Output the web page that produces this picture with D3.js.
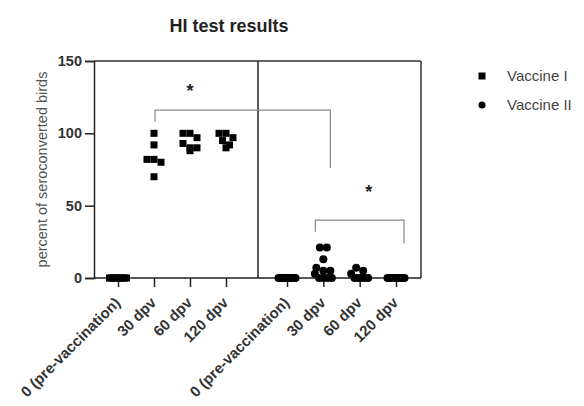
<!DOCTYPE html>
<html>
<head>
<meta charset="utf-8">
<script src="https://cdn.jsdelivr.net/npm/d3@7"></script>
<style>
  body { margin: 0; background: #fff; }
  text { font-family: "Liberation Sans", Arial, sans-serif; }
</style>
</head>
<body>
<div id="chart"></div>
<script>
// HI test chart

const WIDTH = 584;
const HEIGHT = 406;

const categories = ["0 (pre-vaccination)", "30 dpv", "60 dpv", "120 dpv"];
const yTicks = [0, 50, 100, 150];

// values (percent seroconverted, one per bird group)
const vaccineI = [
  [0, 0, 0, 0, 0, 0, 0, 0, 0, 0],
  [100, 92, 82, 80, 82, 70],
  [100, 100, 97, 93, 90, 90, 88],
  [100, 100, 97, 95, 92, 90]
];
const vaccineII = [
  [0, 0, 0, 0, 0, 0, 0, 0, 0, 0],
  [21, 21, 13, 7, 5, 5, 3, 0, 0, 0, 0],
  [7, 5, 3, 0, 0, 0, 0, 0],
  [0, 0, 0, 0, 0, 0, 0, 0]
];

const svg = d3.select("#chart")
  .append("svg")
    .attr("width", WIDTH)
    .attr("height", HEIGHT);

const PLOT_TOP = 61, PLOT_BOTTOM = 278;
const PLOT_LEFT = 94, PLOT_MID = 258, PLOT_RIGHT = 421;

const y = d3.scaleLinear().domain([0, 150]).range([PLOT_BOTTOM, PLOT_TOP]);

const xI = d3.scalePoint().domain(categories).range([118, 226]);
const xII = d3.scalePoint().domain(categories).range([287, 396]);

// title
svg.append("text")
  .attr("x", 229).attr("y", 32)
  .attr("text-anchor", "middle")
  .attr("font-size", 18).attr("font-weight", "bold")
  .attr("fill", "#222")
  .text("HI test results");

// y axis label
svg.append("text")
  .attr("transform", "translate(47," + ((PLOT_TOP + PLOT_BOTTOM) / 2) + ") rotate(-90)")
  .attr("text-anchor", "middle")
  .attr("font-size", 14.5)
  .attr("fill", "#555")
  .text("percent of seroconverted birds");

// y axis
const yAxis = svg.append("g")
  .attr("transform", "translate(" + PLOT_LEFT + ",0)")
  .call(d3.axisLeft(y).tickValues(yTicks).tickSize(9).tickPadding(3));
yAxis.select(".domain").attr("stroke", "#222").attr("stroke-width", 1.5);
yAxis.selectAll(".tick line").attr("stroke", "#222").attr("stroke-width", 1.5);
yAxis.selectAll("text")
  .attr("font-size", 14.5).attr("font-weight", "bold")
  .attr("fill", "#333").attr("font-family", "Liberation Sans, Arial, sans-serif");

// frame: top, right, divider
svg.append("line").attr("x1", PLOT_LEFT).attr("x2", PLOT_RIGHT).attr("y1", PLOT_TOP).attr("y2", PLOT_TOP)
  .attr("stroke", "#333").attr("stroke-width", 1.5);
svg.append("line").attr("x1", PLOT_RIGHT).attr("x2", PLOT_RIGHT).attr("y1", PLOT_TOP).attr("y2", PLOT_BOTTOM)
  .attr("stroke", "#333").attr("stroke-width", 1.5);
svg.append("line").attr("x1", PLOT_MID).attr("x2", PLOT_MID).attr("y1", PLOT_TOP).attr("y2", PLOT_BOTTOM)
  .attr("stroke", "#222").attr("stroke-width", 1.5);

// x axes for both panels
[[xI, PLOT_LEFT, PLOT_MID], [xII, PLOT_MID, PLOT_RIGHT]].forEach(function(p) {
  const g = svg.append("g")
    .attr("transform", "translate(0," + PLOT_BOTTOM + ")")
    .call(d3.axisBottom(p[0]).tickSize(9).tickSizeOuter(0));
  g.select(".domain").attr("d", "M" + p[1] + ",0H" + p[2]).attr("stroke", "#222").attr("stroke-width", 1.5);
  g.selectAll(".tick line").attr("stroke", "#222").attr("stroke-width", 1.5);
  g.selectAll("text")
    .attr("font-size", 15).attr("font-weight", "bold")
    .attr("fill", "#333").attr("font-family", "Liberation Sans, Arial, sans-serif")
    .attr("text-anchor", "end")
    .attr("y", 0).attr("dy", "0.35em")
    .attr("transform", "translate(-1,22) rotate(-45)");
});

// spread points that share roughly the same value side by side
function spread(values) {
  const sorted = values.slice().sort((a, b) => b - a);
  const groups = [];
  sorted.forEach(function(v) {
    const g = groups[groups.length - 1];
    if (g && Math.abs(g[0] - v) < 4) g.push(v); else groups.push([v]);
  });
  const out = [];
  groups.forEach(function(g) {
    const step = g.length > 1 ? Math.min(7, 17 / (g.length - 1)) : 0;
    g.forEach(function(v, i) { out.push({v: v, dx: (i - (g.length - 1) / 2) * step}); });
  });
  return out;
}

// vaccine I squares
vaccineI.forEach(function(vals, i) {
  svg.append("g").selectAll("rect")
    .data(spread(vals))
    .enter().append("rect")
      .attr("x", d => xI(categories[i]) + d.dx - 3.5)
      .attr("y", d => y(d.v) - 3.5)
      .attr("width", 7).attr("height", 7)
      .attr("fill", "#000");
});

// vaccine II circles
vaccineII.forEach(function(vals, i) {
  svg.append("g").selectAll("circle")
    .data(spread(vals))
    .enter().append("circle")
      .attr("cx", d => xII(categories[i]) + d.dx)
      .attr("cy", d => y(d.v))
      .attr("r", 4)
      .attr("fill", "#000");
});

// significance brackets
function bracket(x1, x2, yTop, yL, yR, starX, starY) {
  svg.append("path")
    .attr("d", "M" + x1 + "," + y(yL) + "V" + y(yTop) + "H" + x2 + "V" + y(yR))
    .attr("fill", "none").attr("stroke", "#888").attr("stroke-width", 1.2);
  svg.append("text")
    .attr("x", starX).attr("y", y(starY)).attr("dy", "0.7em")
    .attr("text-anchor", "middle").attr("font-size", 18).attr("font-weight", "bold")
    .attr("fill", "#222")
    .text("*");
}
bracket(xI("30 dpv") + 1, xII("30 dpv") + 7, 116, 108, 76, xI("60 dpv"), 134);
bracket(xII("30 dpv") - 8, xII("120 dpv") + 8, 40, 32, 24, xII("60 dpv") + 9, 64);

// legend
const legend = svg.append("g").attr("transform", "translate(482,76)");
legend.append("rect").attr("x", -3.5).attr("y", -3.5).attr("width", 7).attr("height", 7).attr("fill", "#000");
legend.append("circle").attr("cx", 0).attr("cy", 29).attr("r", 3.5).attr("fill", "#000");
legend.append("text").attr("x", 25).attr("y", 0).attr("dy", "0.35em")
  .attr("font-size", 15).attr("fill", "#444").text("Vaccine I");
legend.append("text").attr("x", 25).attr("y", 29).attr("dy", "0.35em")
  .attr("font-size", 15).attr("fill", "#444").text("Vaccine II");
</script>
</body>
</html>
